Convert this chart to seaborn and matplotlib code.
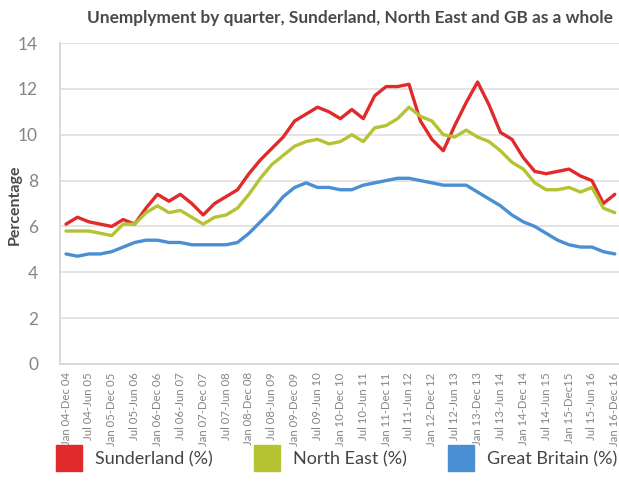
import numpy as np
import pandas as pd
import matplotlib
matplotlib.use("Agg")
import matplotlib.pyplot as plt
import seaborn as sns
from matplotlib.lines import Line2D

quarters = [
    "Jan 04-Dec 04", "Apr 04-Mar 05", "Jul 04-Jun 05", "Oct 04-Sep 05",
    "Jan 05-Dec 05", "Apr 05-Mar 06", "Jul 05-Jun 06", "Oct 05-Sep 06",
    "Jan 06-Dec 06", "Apr 06-Mar 07", "Jul 06-Jun 07", "Oct 06-Sep 07",
    "Jan 07-Dec 07", "Apr 07-Mar 08", "Jul 07-Jun 08", "Oct 07-Sep 08",
    "Jan 08-Dec 08", "Apr 08-Mar 09", "Jul 08-Jun 09", "Oct 08-Sep 09",
    "Jan 09-Dec 09", "Apr 09-Mar 10", "Jul 09-Jun 10", "Oct 09-Sep 10",
    "Jan 10-Dec 10", "Apr 10-Mar 11", "Jul 10-Jun 11", "Oct 10-Sep 11",
    "Jan 11-Dec 11", "Apr 11-Mar 12", "Jul 11-Jun 12", "Oct 11-Sep 12",
    "Jan 12-Dec 12", "Apr 12-Mar 13", "Jul 12-Jun 13", "Oct 12-Sep 13",
    "Jan 13-Dec 13", "Apr 13-Mar 14", "Jul 13-Jun 14", "Oct 13-Sep 14",
    "Jan 14-Dec 14", "Apr 14-Mar 15", "Jul 14-Jun 15", "Oct 14-Sep 15",
    "Jan 15-Dec15", "Apr 15-Mar 16", "Jul 15-Jun 16", "Oct 15-Sep 16",
    "Jan 16-Dec 16",
]

sunderland = [6.1, 6.4, 6.2, 6.1, 6.0, 6.3, 6.1, 6.8, 7.4, 7.1,
              7.4, 7.0, 6.5, 7.0, 7.3, 7.6, 8.3, 8.9, 9.4, 9.9,
              10.6, 10.9, 11.2, 11.0, 10.7, 11.1, 10.7, 11.7, 12.1, 12.1,
              12.2, 10.6, 9.8, 9.3, 10.4, 11.4, 12.3, 11.3, 10.1, 9.8,
              9.0, 8.4, 8.3, 8.4, 8.5, 8.2, 8.0, 7.0, 7.4]

north_east = [5.8, 5.8, 5.8, 5.7, 5.6, 6.1, 6.1, 6.6, 6.9, 6.6,
              6.7, 6.4, 6.1, 6.4, 6.5, 6.8, 7.4, 8.1, 8.7, 9.1,
              9.5, 9.7, 9.8, 9.6, 9.7, 10.0, 9.7, 10.3, 10.4, 10.7,
              11.2, 10.8, 10.6, 10.0, 9.9, 10.2, 9.9, 9.7, 9.3, 8.8,
              8.5, 7.9, 7.6, 7.6, 7.7, 7.5, 7.7, 6.8, 6.6]

great_britain = [4.8, 4.7, 4.8, 4.8, 4.9, 5.1, 5.3, 5.4, 5.4, 5.3,
                 5.3, 5.2, 5.2, 5.2, 5.2, 5.3, 5.7, 6.2, 6.7, 7.3,
                 7.7, 7.9, 7.7, 7.7, 7.6, 7.6, 7.8, 7.9, 8.0, 8.1,
                 8.1, 8.0, 7.9, 7.8, 7.8, 7.8, 7.5, 7.2, 6.9, 6.5,
                 6.2, 6.0, 5.7, 5.4, 5.2, 5.1, 5.1, 4.9, 4.8]

series_names = ["Sunderland (%)", "North East (%)", "Great Britain (%)"]
colors = ["#e02a2c", "#b5c232", "#4a8fd4"]

n = len(quarters)
df = pd.DataFrame({
    "pos": list(range(n)) * 3,
    "quarter": quarters * 3,
    "rate": sunderland + north_east + great_britain,
    "series": [series_names[0]] * n + [series_names[1]] * n + [series_names[2]] * n,
})

sns.set_style("white")
plt.rcParams["font.family"] = ["Lato", "DejaVu Sans"]

W, H = 619, 497
fig = plt.figure(figsize=(W / 100, H / 100), dpi=100)
ax = fig.add_axes([60.3 / W, (H - 364) / H, (620.5 - 60.3) / W, (364 - 43) / H])

sns.lineplot(data=df, x="pos", y="rate", hue="series", hue_order=series_names,
             palette=colors, linewidth=2.4, ax=ax, legend=False, sort=False)

ax.set_xlim(-0.5, n - 0.5)
ax.set_ylim(0, 14)
ax.set_yticks(range(0, 15, 2))
ax.grid(axis="y", color="#e2e2e2", linewidth=1.3)
ax.grid(axis="x", visible=False)
ax.set_axisbelow(True)
ax.set_xlabel("")
ax.set_ylabel("")

ax.set_xticks(range(0, n, 2))
ax.set_xticklabels(quarters[::2], rotation=90, fontsize=8.2, color="#858585")
ax.set_xticks(np.arange(-0.5, n, 1), minor=True)
ax.tick_params(axis="x", which="major", length=0, pad=6)
ax.tick_params(axis="x", which="minor", length=4, color="#d6d6d6", width=1)
ax.tick_params(axis="y", length=0, labelsize=12.5, labelcolor="#858585", pad=16)

for s in ["top", "right"]:
    ax.spines[s].set_visible(False)
for s in ["left", "bottom"]:
    ax.spines[s].set_color("#d6d6d6")
    ax.spines[s].set_linewidth(1.3)

fig.text(350 / W, 1 - 18 / H,
         "Unemplyment by quarter, Sunderland, North East and GB as a whole",
         ha="center", va="center", fontsize=12.4, fontweight="bold", color="#4a4a4a")
fig.text(15 / W, 1 - 205 / H, "Percentage", rotation=90, ha="center", va="center",
         fontsize=11.5, fontweight="bold", color="#4a4a4a")

handles = [Line2D([], [], marker="s", markersize=19, linestyle="", color=c) for c in colors]
fig.legend(handles, series_names, loc="center left", bbox_to_anchor=(56 / W, 38 / H),
           ncol=3, frameon=False, handlelength=1.4, handletextpad=0.75,
           columnspacing=2.3, borderaxespad=0, borderpad=0,
           prop={"size": 13}, labelcolor="#444444")

fig.savefig("out.png", dpi=100)
